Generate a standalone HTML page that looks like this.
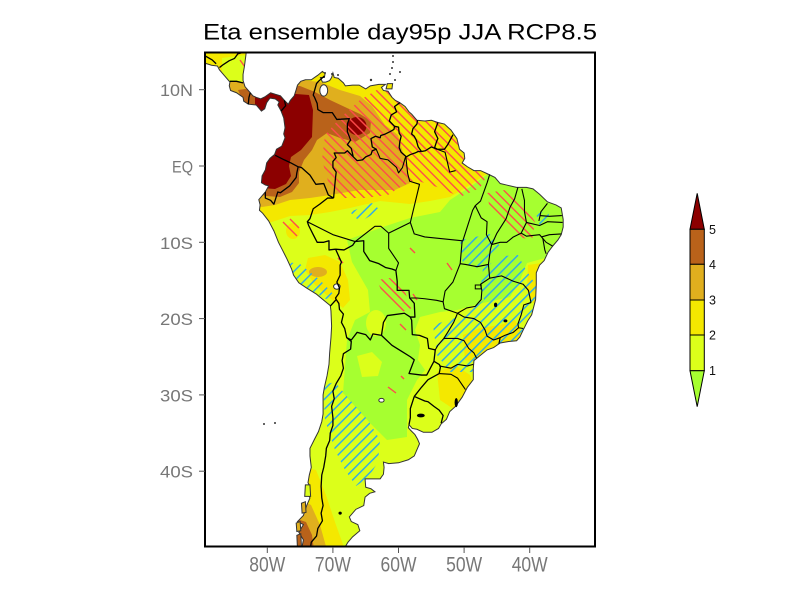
<!DOCTYPE html>
<html><head><meta charset="utf-8">
<style>
html,body{margin:0;padding:0;background:#fff;}
svg{display:block;}
text{font-family:"Liberation Sans",sans-serif;}
.ns{vector-effect:non-scaling-stroke;}
.bd polyline{vector-effect:non-scaling-stroke;fill:none;stroke:#000;stroke-width:1.3;stroke-linejoin:round;}
.st polyline{vector-effect:non-scaling-stroke;fill:none;stroke:#000;stroke-width:1.1;stroke-linejoin:round;}
</style></head>
<body>
<svg width="800" height="600" viewBox="0 0 800 600" xmlns="http://www.w3.org/2000/svg">
<defs>
<clipPath id="frame"><rect x="205" y="52" width="390" height="495"/></clipPath>
<clipPath id="land"><polygon transform="matrix(6.56 0 0 -7.63 792.12 166)" points="-89.6,15.6 -83.2,15.6 -83.2,15 -83.3,14.3 -83.5,13 -83.7,12 -83.7,11.2 -83.4,10.4 -82.6,9.6 -82.2,9.2 -81.7,9 -81,8.8 -80.3,9.1 -79.5,9.6 -78.8,9.4 -78,9.2 -77.4,8.6 -76.8,8.1 -76.5,8.6 -75.9,9.2 -75.6,10 -75.4,10.6 -74.9,11.1 -74.2,11.3 -73.3,11.3 -72.3,11.9 -71.6,12.4 -71.2,12.1 -71.3,11.6 -71.9,11.6 -71.6,11 -71.1,11 -70.5,11.2 -70.2,11.6 -70.0,12.2 -69.8,11.6 -69.2,11.5 -68.4,10.9 -68.1,10.5 -67,10.6 -66,10.6 -65,10.1 -64.3,10.5 -63,10.7 -62,10.7 -62.6,10.3 -62.3,9.9 -61.6,9.8 -61,9 -60.5,8.6 -59.8,8.3 -59,7.8 -58.4,7.1 -58,6.8 -57.2,6 -56,5.9 -55,6 -54,5.7 -53,5.5 -52,4.7 -51.6,4.2 -51.1,3.6 -50.7,2.2 -50,1.7 -49.9,1 -50.3,0.4 -49.5,-0.1 -48.5,-0.6 -47.5,-0.6 -46.5,-1 -45.3,-1.5 -44.5,-2.3 -43.5,-2.5 -42,-2.8 -40.5,-2.8 -39.5,-3 -38.5,-3.7 -37.3,-4.7 -36,-5.1 -35.2,-5.5 -34.9,-7 -34.9,-8 -35.2,-9 -35.7,-9.7 -36.5,-10.5 -37.2,-11.3 -37.8,-12.4 -38.5,-13 -39,-14 -39,-15.5 -39.1,-17.5 -39.7,-19.5 -40.3,-20.3 -41,-21.5 -41.5,-22.4 -42,-22.9 -43.2,-23 -44.5,-23.2 -45.5,-23.8 -46.5,-24.1 -47.5,-24.8 -48.5,-25.5 -48.6,-26.5 -48.6,-28 -49.5,-29 -50.3,-30.3 -51.3,-31.5 -52.2,-32.2 -52.7,-33.2 -53.5,-33.8 -53.9,-34.4 -54.9,-34.9 -56.2,-34.9 -57.2,-34.5 -57.9,-34.4 -58.4,-33.9 -58.5,-34.3 -58.2,-34.6 -57.5,-35.2 -57.1,-35.8 -56.8,-36.4 -57.1,-37 -57.6,-38 -58.5,-38.5 -60,-38.9 -61.5,-39 -62.3,-38.8 -62.2,-39.5 -62.3,-40.4 -62.8,-41 -64,-41 -65.1,-41 -65,-42.1 -64.2,-42.3 -63.6,-42.7 -64.4,-42.9 -65.1,-43.4 -65.3,-44.5 -66.5,-45 -67.5,-46 -67.2,-46.6 -66.2,-47 -65.9,-47.8 -67,-48.6 -67.7,-49.3 -68.4,-50.3 -74.8,-50.3 -74.5,-49 -75.2,-48 -74.5,-47 -75.4,-46.6 -74.5,-45.8 -74,-44.5 -73.5,-43.5 -73.8,-43 -73.5,-42 -73.8,-41.5 -73.6,-40.5 -73.3,-39.5 -73.5,-38 -73.5,-37 -72.8,-35.8 -72.2,-34.8 -71.7,-33.5 -71.5,-32.5 -71.5,-30 -71.3,-29 -70.9,-27.5 -70.6,-26 -70.5,-24.5 -70.3,-22.5 -70.2,-21 -70.3,-19 -70.4,-18.3 -71.4,-17.6 -72.5,-16.8 -74,-16 -75.2,-15.3 -76,-14.3 -76.3,-13.5 -77,-12.2 -77.7,-11 -78.3,-10 -79,-8.5 -79.8,-7.2 -80.7,-6.2 -81.2,-5.8 -81.1,-5.1 -81.3,-4.4 -80.3,-3.4 -79.8,-2.6 -80.3,-2.5 -80.9,-2.2 -80.8,-1.3 -80.3,-0.5 -80.1,0.4 -79.6,1 -78.9,1.5 -78.6,2.2 -77.8,2.6 -77.3,3.7 -77.5,4.2 -77.3,5 -77.5,6.3 -77.9,7.2 -78.4,8 -78.2,8.4 -78.8,8.8 -79.6,8.9 -80.1,8.3 -80.4,7.5 -80.9,7.2 -81.7,8 -82.9,8.1 -83.6,8.5 -83.7,9 -84.7,9.6 -85.6,9.9 -85.8,10.5 -85.7,11 -86.5,11.8 -87.3,12.6 -87.6,13.1 -88.5,13.2 -89.6,13.5"/></clipPath>
<pattern id="hr" patternUnits="userSpaceOnUse" width="6.5" height="6.5" patternTransform="rotate(-45)"><rect x="0" y="0" width="1.4" height="6.5" fill="#FF4B4B"/></pattern>
<pattern id="hb" patternUnits="userSpaceOnUse" width="7" height="7" patternTransform="rotate(45)"><rect x="0" y="0" width="1.4" height="7" fill="#2AA8F0"/></pattern>
</defs>

<!-- Title -->
<text x="203" y="39.5" font-size="22.5" fill="#000" textLength="394" lengthAdjust="spacingAndGlyphs">Eta ensemble day95p JJA RCP8.5</text>

<g clip-path="url(#frame)">
 <g clip-path="url(#land)">
  <rect x="195" y="45" width="410" height="510" fill="#DCFF1A"/>
  <polygon fill="#F4E800" points="195,45 605,45 605,150 520,160 500,167 485,175 470,185 450,197 430,201 410,204 380,201 350,208 330,212 310,215 290,216 275,221 262,225 195,225"/>
  <polygon fill="#A6FF30" points="347,240 380,228 410,218 440,212 450,200 470,187 485,176 497,168 520,160 605,160 605,255 545,258 527,263 520,280 510,297 483,303 457,310 440,312 420,317 415,330 420,345 418,360 425,370 417,380 407,400 407,437 387,440 370,423 343,393 347,340 355,320 370,312 368,290 352,262"/>
  <ellipse cx="376" cy="323" rx="10" ry="13" fill="#DCFF1A"/>
  <polygon fill="#DCFF1A" points="357,356 372,352 382,362 378,376 362,377"/>
  <polygon fill="#DCFF1A" points="222,58 245,55 250,75 245,85 232,85 222,72"/>
  <polygon fill="#F4E800" points="528,265 548,262 548,305 533,303 527,290"/>
  <polygon fill="#F4E800" points="463,335 480,328 500,325 515,320 522,335 505,350 480,362 465,360"/>
  <polygon fill="#F4E800" points="437,372 455,365 470,375 478,395 470,410 455,410 440,400"/>
  <polygon fill="#F4E800" points="308,258 325,255 340,262 348,280 350,300 343,308 330,298 315,285 305,270"/>
  <ellipse cx="293" cy="231" rx="7" ry="8" fill="#F4E800"/>
  <polygon fill="#F4E800" points="296,466 316,470 326,495 336,525 345,550 296,550"/>
  <polygon fill="#E0AF1E" points="250,84 288,84 300,80 320,82 340,90 360,96 372,106 385,125 398,135 405,160 410,183 395,190 360,190 330,195 310,198 290,200 275,205 262,207 250,205"/>
  <polygon fill="#E0AF1E" points="226,82 245,82 252,90 250,100 238,100 228,92"/>
  <ellipse cx="318" cy="272" rx="9" ry="5" fill="#E0AF1E"/>
  <polygon fill="#E0AF1E" points="296,498 311,505 320,525 327,550 296,550"/>
  <polygon fill="#B9621A" points="250,88 283,86 300,86 315,92 330,100 347,108 360,114 371,121 370,133 355,142 340,138 327,133 317,140 312,150 304,160 299,172 299,183 292,192 280,197 266,196 250,192"/>
  <polygon fill="#B9621A" points="238,90 252,88 258,95 258,106 245,106"/>
  <polygon fill="#B9621A" points="294,518 306,522 312,535 314,550 294,550"/>
  <polygon fill="#8C0000" points="255,93 296,94 309,95 313,110 312,137 301,150 291,157 289,166 291,176 286,184 275,189 262,188 250,182 250,110 255,108"/>
  <ellipse cx="357" cy="126" rx="9.5" ry="9" fill="#8C0000"/>
  <g fill="url(#hr)">
   <polygon points="322,160 325,135 340,118 360,100 380,88 400,80 420,92 440,112 460,135 478,158 490,170 480,188 460,197 440,188 415,180 402,186 388,195 365,198 345,198 330,188"/>
   <polygon points="487,193 505,190 522,200 535,222 532,240 518,237 503,225 490,210"/>
   <polygon points="377,280 390,278 404,290 412,308 402,312 385,300"/>
  </g>
  <g stroke="#FF4B4B" stroke-width="1.4">
   <line x1="283" y1="222" x2="297" y2="236"/>
   <line x1="290" y1="219" x2="299" y2="228"/>
   <line x1="338" y1="258" x2="343" y2="263"/>
   <line x1="410" y1="248" x2="415" y2="253"/>
   <line x1="447" y1="263" x2="452" y2="270"/>
   <line x1="400" y1="324" x2="406" y2="330"/>
   <line x1="388" y1="387" x2="396" y2="393"/>
   <line x1="401" y1="376" x2="404" y2="379"/>
   <line x1="240" y1="60" x2="245" y2="67"/>
   <line x1="413" y1="294" x2="417" y2="300"/>
  </g>
  <g fill="url(#hb)">
   <polygon points="460,240 490,234 500,246 490,262 478,268 463,264"/>
   <polygon points="483,268 503,256 518,255 526,270 536,285 540,305 532,325 515,340 492,355 472,372 450,372 437,355 433,325 455,318 470,310 484,300 481,285"/>
   <polygon points="323,385 335,382 350,400 368,420 380,440 378,462 368,478 356,486 345,470 335,450 325,420"/>
   <polygon points="288,262 300,264 320,280 336,297 326,299 310,290 294,280"/>
   <polygon points="350,212 372,203 380,210 360,222"/>
   <polygon points="536,214 548,210 550,222 540,226"/>
  </g>
 </g>

 <polygon class="ns" transform="matrix(6.56 0 0 -7.63 792.12 166)" fill="none" stroke="#333" stroke-width="1" points="-89.6,15.6 -83.2,15.6 -83.2,15 -83.3,14.3 -83.5,13 -83.7,12 -83.7,11.2 -83.4,10.4 -82.6,9.6 -82.2,9.2 -81.7,9 -81,8.8 -80.3,9.1 -79.5,9.6 -78.8,9.4 -78,9.2 -77.4,8.6 -76.8,8.1 -76.5,8.6 -75.9,9.2 -75.6,10 -75.4,10.6 -74.9,11.1 -74.2,11.3 -73.3,11.3 -72.3,11.9 -71.6,12.4 -71.2,12.1 -71.3,11.6 -71.9,11.6 -71.6,11 -71.1,11 -70.5,11.2 -70.2,11.6 -70.0,12.2 -69.8,11.6 -69.2,11.5 -68.4,10.9 -68.1,10.5 -67,10.6 -66,10.6 -65,10.1 -64.3,10.5 -63,10.7 -62,10.7 -62.6,10.3 -62.3,9.9 -61.6,9.8 -61,9 -60.5,8.6 -59.8,8.3 -59,7.8 -58.4,7.1 -58,6.8 -57.2,6 -56,5.9 -55,6 -54,5.7 -53,5.5 -52,4.7 -51.6,4.2 -51.1,3.6 -50.7,2.2 -50,1.7 -49.9,1 -50.3,0.4 -49.5,-0.1 -48.5,-0.6 -47.5,-0.6 -46.5,-1 -45.3,-1.5 -44.5,-2.3 -43.5,-2.5 -42,-2.8 -40.5,-2.8 -39.5,-3 -38.5,-3.7 -37.3,-4.7 -36,-5.1 -35.2,-5.5 -34.9,-7 -34.9,-8 -35.2,-9 -35.7,-9.7 -36.5,-10.5 -37.2,-11.3 -37.8,-12.4 -38.5,-13 -39,-14 -39,-15.5 -39.1,-17.5 -39.7,-19.5 -40.3,-20.3 -41,-21.5 -41.5,-22.4 -42,-22.9 -43.2,-23 -44.5,-23.2 -45.5,-23.8 -46.5,-24.1 -47.5,-24.8 -48.5,-25.5 -48.6,-26.5 -48.6,-28 -49.5,-29 -50.3,-30.3 -51.3,-31.5 -52.2,-32.2 -52.7,-33.2 -53.5,-33.8 -53.9,-34.4 -54.9,-34.9 -56.2,-34.9 -57.2,-34.5 -57.9,-34.4 -58.4,-33.9 -58.5,-34.3 -58.2,-34.6 -57.5,-35.2 -57.1,-35.8 -56.8,-36.4 -57.1,-37 -57.6,-38 -58.5,-38.5 -60,-38.9 -61.5,-39 -62.3,-38.8 -62.2,-39.5 -62.3,-40.4 -62.8,-41 -64,-41 -65.1,-41 -65,-42.1 -64.2,-42.3 -63.6,-42.7 -64.4,-42.9 -65.1,-43.4 -65.3,-44.5 -66.5,-45 -67.5,-46 -67.2,-46.6 -66.2,-47 -65.9,-47.8 -67,-48.6 -67.7,-49.3 -68.4,-50.3 -74.8,-50.3 -74.5,-49 -75.2,-48 -74.5,-47 -75.4,-46.6 -74.5,-45.8 -74,-44.5 -73.5,-43.5 -73.8,-43 -73.5,-42 -73.8,-41.5 -73.6,-40.5 -73.3,-39.5 -73.5,-38 -73.5,-37 -72.8,-35.8 -72.2,-34.8 -71.7,-33.5 -71.5,-32.5 -71.5,-30 -71.3,-29 -70.9,-27.5 -70.6,-26 -70.5,-24.5 -70.3,-22.5 -70.2,-21 -70.3,-19 -70.4,-18.3 -71.4,-17.6 -72.5,-16.8 -74,-16 -75.2,-15.3 -76,-14.3 -76.3,-13.5 -77,-12.2 -77.7,-11 -78.3,-10 -79,-8.5 -79.8,-7.2 -80.7,-6.2 -81.2,-5.8 -81.1,-5.1 -81.3,-4.4 -80.3,-3.4 -79.8,-2.6 -80.3,-2.5 -80.9,-2.2 -80.8,-1.3 -80.3,-0.5 -80.1,0.4 -79.6,1 -78.9,1.5 -78.6,2.2 -77.8,2.6 -77.3,3.7 -77.5,4.2 -77.3,5 -77.5,6.3 -77.9,7.2 -78.4,8 -78.2,8.4 -78.8,8.8 -79.6,8.9 -80.1,8.3 -80.4,7.5 -80.9,7.2 -81.7,8 -82.9,8.1 -83.6,8.5 -83.7,9 -84.7,9.6 -85.6,9.9 -85.8,10.5 -85.7,11 -86.5,11.8 -87.3,12.6 -87.6,13.1 -88.5,13.2 -89.6,13.5"/>

 <g transform="matrix(6.56 0 0 -7.63 792.12 166)">
  <polygon class="ns" fill="#F4E800" stroke="#333" stroke-width="1" points="-61.9,10.1 -61,10.1 -60.9,10.8 -61.7,10.8"/>
  <polygon class="ns" fill="#DCFF1A" stroke="#333" stroke-width="1" points="-74.2,-41.8 -73.5,-41.8 -73.4,-43.3 -74.3,-43.3"/>
  <polygon class="ns" fill="#B9621A" stroke="#333" stroke-width="1" points="-75.5,-48.4 -74.9,-48.2 -74.8,-49.8 -75.4,-50.2"/>
  <polygon class="ns" fill="#E0AF1E" stroke="#333" stroke-width="1" points="-75.6,-46.8 -75.0,-46.6 -74.9,-47.8 -75.5,-47.9"/>
  <polygon class="ns" fill="#E0AF1E" stroke="#333" stroke-width="1" points="-74.8,-44.2 -74.2,-44.0 -74.1,-45.4 -74.7,-45.5"/>
  <ellipse class="ns" cx="-71.4" cy="9.9" rx="0.6" ry="0.75" fill="#fff" stroke="#333" stroke-width="1"/>
  <ellipse class="ns" cx="-69.4" cy="-15.8" rx="0.5" ry="0.35" fill="#fff" stroke="#333" stroke-width="1"/>
  <ellipse class="ns" cx="-62.6" cy="-30.7" rx="0.4" ry="0.25" fill="#fff" stroke="#333" stroke-width="1"/>
  <ellipse cx="-56.6" cy="-32.7" rx="0.6" ry="0.25" fill="#000"/>
  <ellipse cx="-51.2" cy="-31" rx="0.25" ry="0.6" fill="#000"/>
  <ellipse cx="-45.2" cy="-18.2" rx="0.25" ry="0.3" fill="#000"/>
  <ellipse cx="-43.7" cy="-20.3" rx="0.3" ry="0.2" fill="#000"/>
  <ellipse cx="-68.9" cy="-45.5" rx="0.25" ry="0.2" fill="#000"/>
  <rect class="ns" x="-48.3" y="-16.1" width="0.9" height="0.5" fill="none" stroke="#000" stroke-width="1"/>
 </g>
 <g fill="#333">
  <circle cx="325" cy="73" r="1"/><circle cx="332" cy="74" r="1"/><circle cx="338" cy="75" r="1"/>
  <circle cx="393" cy="62" r="1"/><circle cx="392" cy="68" r="1"/><circle cx="390" cy="74" r="1"/><circle cx="393" cy="56" r="1"/>
  <circle cx="400" cy="72" r="1"/><circle cx="371" cy="80" r="1.2"/><circle cx="395" cy="80" r="1"/>
  <circle cx="264" cy="424" r="1"/><circle cx="275" cy="423" r="1"/>
 </g>

 <g class="bd" transform="matrix(6.56 0 0 -7.63 792.12 166)">
  <polyline points="-71.3,11.8 -72.2,11.1 -72.5,10.8 -73,9.3 -72.8,9 -72.4,8.2 -72.3,7.4 -71.5,7 -70.1,7 -69.4,6.1 -67.5,6.2 -67.8,5.5 -67.8,4.5 -67.3,3.4 -67.8,2.8 -67.2,2.3 -66.9,1.2"/>
  <polyline points="-66.9,1.2 -66.3,0.7 -65.5,0.8 -65,1.2 -64.2,1.5 -64,2 -63.4,2.2 -64,2.5 -64.2,3.6 -63.5,3.9 -62.8,3.7 -62.7,4 -62,4.2 -61.3,4.5 -60.7,4.8 -60.6,5.2"/>
  <polyline points="-60.6,5.2 -61.4,5.9 -61.1,6.7 -60.3,7.1 -60.6,7.8 -59.8,8.3"/>
  <polyline points="-60.6,5.2 -60,5.1 -59.9,4.3 -59.6,3.9 -59.8,3.2 -59.9,2.4 -59.6,1.8 -58.8,1.2 -58.2,1.5 -57.5,1.7 -57,1.9 -56.5,1.9"/>
  <polyline points="-56.5,1.9 -57,2.5 -57.3,3.4 -57.6,3.9 -58,4.2 -57.8,4.9 -57.2,5.5 -57.1,6"/>
  <polyline points="-56.5,1.9 -55.9,2 -55,2.5 -54.1,2.2"/>
  <polyline points="-54.1,2.2 -54.5,2.4 -54.2,3.2 -54,3.6 -54.5,4.5 -54,5.7"/>
  <polyline points="-54.1,2.2 -53,2.2 -52.5,2.8 -51.7,4.1"/>
  <polyline points="-66.9,1.2 -67.8,2 -68.2,1.7 -69.8,1.7 -69.5,1.1 -70,0.6 -70,-0.2 -69.5,-0.8 -69.6,-1.5 -69.9,-4.2"/>
  <polyline points="-69.9,-4.2 -70.7,-3.8 -71.4,-2.3 -72.6,-2.4 -73.5,-1.2 -74.8,-0.2 -75.3,-0.1"/>
  <polyline points="-75.3,-0.1 -76.4,0.4 -77.4,0.8 -78.8,1.4"/>
  <polyline points="-77.4,8.6 -77.2,7.9 -77.9,7.2"/>
  <polyline points="-75.3,-0.1 -75.5,-0.9 -75.6,-1.5 -76.6,-2.6 -78,-3.5 -78.4,-3.4 -79,-5 -79.5,-4.5 -80.3,-4.2 -80.3,-3.4"/>
  <polyline points="-69.9,-4.2 -70.8,-4.2 -72,-5 -73,-5.6 -73.5,-6.9 -73.9,-7.3 -73.7,-7.8 -73,-9 -72.4,-10 -71.4,-10 -70.6,-9.8 -70.6,-11 -69.6,-10.9"/>
  <polyline points="-69.6,-10.9 -68.7,-12.6 -68.9,-13 -68.9,-14.3 -69.4,-15.2 -69,-16 -69.1,-16.7 -69.6,-17.3 -69.5,-17.5"/>
  <polyline points="-69.5,-17.5 -70.4,-18.35"/>
  <polyline points="-69.5,-17.5 -69.1,-18 -69,-18.8 -68.4,-19.4 -68.7,-20.5 -68.2,-21.3 -67.9,-22.5 -67.2,-23 -67.3,-24 -68.4,-24.6 -68.6,-25.5 -68.4,-26.5 -68.8,-27.5 -69.5,-28.5 -70,-29.5 -69.8,-30.5 -70.2,-31.5 -70,-33 -70,-34 -70.4,-35 -70.5,-36 -71,-37 -71.1,-38 -71.4,-39.5 -71.7,-40.5 -71.8,-42 -71.7,-43.5 -71.5,-44.5 -71.8,-45.5 -71.6,-46.5 -72.3,-47.5 -72.5,-48.5 -73.3,-49.3 -73.5,-50.5"/>
  <polyline points="-69.6,-10.9 -68.3,-11 -67,-10.4 -66.6,-9.9 -65.3,-9.8 -65.3,-11.2 -64.4,-12.4 -63,-12.8 -62,-13.3 -61,-13.5 -60.4,-13.7 -60.2,-15.1 -60.2,-16.3 -58.4,-16.3 -58.3,-17.3 -57.6,-18 -57.5,-19.8 -58.2,-19.8"/>
  <polyline points="-58.2,-19.8 -59.1,-19.3 -61.7,-19.6 -62.3,-20.5 -62.6,-22.2"/>
  <polyline points="-62.6,-22.2 -63.9,-22 -64.3,-22.8 -65,-22.1 -66.3,-21.8 -67.2,-22.8 -67.9,-22.5"/>
  <polyline points="-62.6,-22.2 -61,-23.5 -59.5,-24.3 -58.2,-25 -57.6,-25.4 -58.4,-27.2 -56.5,-27.4 -55.7,-27.4 -54.6,-25.6"/>
  <polyline points="-54.6,-25.6 -54.4,-24.1 -55.4,-23.9 -55.6,-22.6 -56.8,-22.2 -57.9,-22.1 -58,-20.2 -58.2,-19.8"/>
  <polyline points="-54.6,-25.6 -53.8,-26 -53.6,-26.3 -53.8,-27.2 -55.5,-28 -56.5,-29 -57.6,-30.2"/>
  <polyline points="-57.6,-30.2 -58.2,-31.8 -58.2,-33 -58.4,-33.9"/>
  <polyline points="-57.6,-30.2 -56,-30.8 -55.5,-30.9 -54.6,-31.5 -53.8,-32 -53.2,-32.7 -53.5,-33.7"/>
  <polyline points="-82.9,8.1 -82.8,9 -82.6,9.6"/>
  <polyline points="-85.7,11.1 -84.7,11.1 -83.7,10.9"/>
  <polyline points="-87.3,12.9 -86.7,13.3 -85.8,13.8 -85,14.1 -84.5,14.7 -83.2,15"/>
  <polyline points="-87.8,13.4 -88.4,13.9 -89.4,14.4"/>
 </g>
 <g class="st" transform="matrix(6.56 0 0 -7.63 792.12 166)">
  <polyline points="-63.4,2.2 -62.8,1 -61.6,0.8 -60.3,-0.2 -60,-0.9 -59.4,-0.2 -58.9,1.3"/>
  <polyline points="-58.9,1.3 -58.6,-1 -58.3,-2 -56.8,-2.4 -58.2,-7.4"/>
  <polyline points="-54.1,2.2 -52.9,1.8 -52.2,-0.8 -51.3,-0.6"/>
  <polyline points="-58.2,-7.4 -61.5,-8.8 -62.7,-7.9 -63.6,-7.9 -66.6,-9.9"/>
  <polyline points="-66.6,-9.9 -70,-9 -73.9,-7.3"/>
  <polyline points="-61.5,-8.8 -61.5,-10.8 -60,-12.7 -60.4,-13.7"/>
  <polyline points="-58.2,-7.4 -57.6,-8.9 -56,-9.3 -50.2,-9.8"/>
  <polyline points="-50.2,-9.8 -49.3,-7.4 -48.7,-5.8 -48.3,-5.2 -47.5,-4.6 -46.5,-2.2 -46.1,-1.1"/>
  <polyline points="-48.3,-5.2 -47.4,-6.8 -46.5,-7.3 -46.6,-9 -45.8,-10.3"/>
  <polyline points="-41.8,-2.8 -42.3,-4.3 -43,-5.4 -43.6,-6.9 -45,-8.8 -45.8,-10.3"/>
  <polyline points="-45.8,-10.3 -46,-11 -46.3,-12.9 -48,-13.2 -49.8,-12.9 -50.6,-12.8 -50.3,-9.8"/>
  <polyline points="-50.6,-12.8 -51.7,-15.2 -52.9,-16.4 -53.2,-17.8 -53,-18.7 -51,-19.3"/>
  <polyline points="-58.2,-17.3 -57.2,-17.3 -56,-17.4 -54.2,-17.6 -53.2,-17.8"/>
  <polyline points="-51,-19.3 -51.6,-20.5 -52.5,-21.8 -53.1,-22.6 -54,-23.5 -54.4,-24.1"/>
  <polyline points="-46.3,-12.9 -46.1,-14.7 -47.5,-15.5 -47.3,-16.3 -47.4,-17.5 -48.3,-18.4 -49.6,-18.6 -51,-19.3"/>
  <polyline points="-46.1,-14.7 -44.3,-14.4 -42.5,-15.1 -41,-15.5 -40.2,-16.3 -39.8,-17.9"/>
  <polyline points="-39.8,-17.9 -40.9,-18.2 -41.3,-19.5 -41.8,-20.7 -41.7,-21.2 -41,-21.3"/>
  <polyline points="-41.7,-21.2 -42.5,-21.8 -43.8,-22.2 -44.5,-22.5 -44.7,-23.3"/>
  <polyline points="-44.5,-22.5 -45.5,-22.8 -46.5,-22.3 -46.8,-21.5 -47.5,-20.5 -48.5,-20 -50,-19.8 -51,-19.3"/>
  <polyline points="-53.1,-22.6 -51,-22.6 -50,-22.9 -49.3,-23.9 -48.5,-24.5 -48.1,-25.2"/>
  <polyline points="-53.8,-26.2 -52,-26.5 -51,-26 -49.5,-26.2 -48.6,-26"/>
  <polyline points="-53.8,-27.2 -52,-27.3 -51,-27.8 -49.8,-29.3"/>
  <polyline points="-45.8,-10.3 -44.5,-10 -43.5,-10 -42.5,-9.3 -41.3,-8.8 -40.5,-9.2 -38.5,-9 -38,-9.5 -37.5,-10 -36.5,-10.5"/>
  <polyline points="-38,-9.5 -37.7,-11 -37.5,-11.5"/>
  <polyline points="-41.2,-3 -40.8,-4.5 -40.8,-6 -40.5,-7.4 -41.3,-8.8"/>
  <polyline points="-40.5,-7.4 -38.5,-7.8 -37.3,-7.3 -35,-7.4"/>
  <polyline points="-38.5,-6.5 -37,-6.6 -35.1,-6.5"/>
  <polyline points="-37.3,-4.9 -38.3,-6 -38.6,-7.2"/>
  <polyline points="-38.2,-9.3 -37,-9 -35.2,-8.9"/>
 </g>
</g>

<rect x="205" y="52.5" width="390" height="494" fill="none" stroke="#000" stroke-width="2"/>

<g stroke="#555" stroke-width="1">
 <line x1="199" y1="89.7" x2="205" y2="89.7"/>
 <line x1="199" y1="166" x2="205" y2="166"/>
 <line x1="199" y1="242.3" x2="205" y2="242.3"/>
 <line x1="199" y1="318.6" x2="205" y2="318.6"/>
 <line x1="199" y1="394.9" x2="205" y2="394.9"/>
 <line x1="199" y1="471.2" x2="205" y2="471.2"/>
 <line x1="267.3" y1="547" x2="267.3" y2="553"/>
 <line x1="332.9" y1="547" x2="332.9" y2="553"/>
 <line x1="398.5" y1="547" x2="398.5" y2="553"/>
 <line x1="464.1" y1="547" x2="464.1" y2="553"/>
 <line x1="529.7" y1="547" x2="529.7" y2="553"/>
</g>
<g fill="#777" font-size="17" text-anchor="end">
 <text x="193" y="96" textLength="33" lengthAdjust="spacingAndGlyphs">10N</text>
 <text x="193" y="172.5" textLength="21" lengthAdjust="spacingAndGlyphs">EQ</text>
 <text x="193" y="248.8" textLength="33" lengthAdjust="spacingAndGlyphs">10S</text>
 <text x="193" y="325.1" textLength="33" lengthAdjust="spacingAndGlyphs">20S</text>
 <text x="193" y="401.4" textLength="33" lengthAdjust="spacingAndGlyphs">30S</text>
 <text x="193" y="477.7" textLength="33" lengthAdjust="spacingAndGlyphs">40S</text>
</g>
<g fill="#777" font-size="21" text-anchor="middle">
 <text x="267.3" y="571.5" textLength="36" lengthAdjust="spacingAndGlyphs">80W</text>
 <text x="332.9" y="571.5" textLength="36" lengthAdjust="spacingAndGlyphs">70W</text>
 <text x="398.5" y="571.5" textLength="36" lengthAdjust="spacingAndGlyphs">60W</text>
 <text x="464.1" y="571.5" textLength="36" lengthAdjust="spacingAndGlyphs">50W</text>
 <text x="529.7" y="571.5" textLength="36" lengthAdjust="spacingAndGlyphs">40W</text>
</g>

<g stroke="#000" stroke-width="1">
 <polygon points="690,229.3 704.3,229.3 697.2,193.3" fill="#8C0000"/>
 <rect x="690" y="229.3" width="14.3" height="35" fill="#B9621A"/>
 <rect x="690" y="264.3" width="14.3" height="35.7" fill="#E0AF1E"/>
 <rect x="690" y="300" width="14.3" height="35" fill="#F4E800"/>
 <rect x="690" y="335" width="14.3" height="35.7" fill="#DCFF1A"/>
 <polygon points="690,370.7 704.3,370.7 697.2,406.7" fill="#A6FF30"/>
</g>
<g fill="#111" font-size="12.5">
 <text x="709" y="234">5</text>
 <text x="709" y="269">4</text>
 <text x="709" y="304.5">3</text>
 <text x="709" y="339.5">2</text>
 <text x="709" y="375.2">1</text>
</g>
</svg>
</body></html>
